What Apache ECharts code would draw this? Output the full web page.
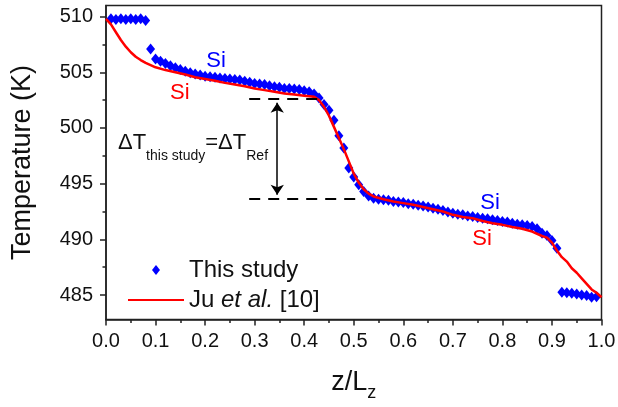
<!DOCTYPE html>
<html><head><meta charset="utf-8">
<script src="https://cdn.jsdelivr.net/npm/echarts@6/dist/echarts.min.js"></script>
<style>html,body{margin:0;padding:0;background:#fff}#c{width:618px;height:407px}</style>
</head><body><div id="c"></div>
<script>
// ---- data ----
const thisStudyZ = [0.01,0.02,0.03,0.04,0.05,0.06,0.07,0.08,0.09,0.10,
  0.11,0.12,0.13,0.14,0.15,0.16,0.17,0.18,0.19,0.20,
  0.21,0.22,0.23,0.24,0.25,0.26,0.27,0.28,0.29,0.30,
  0.31,0.32,0.33,0.34,0.35,0.36,0.37,0.38,0.39,0.40,
  0.41,0.42,0.43,0.44,0.45,0.46,0.47,0.48,0.49,0.50,
  0.51,0.52,0.53,0.54,0.55,0.56,0.57,0.58,0.59,0.60,
  0.61,0.62,0.63,0.64,0.65,0.66,0.67,0.68,0.69,0.70,
  0.71,0.72,0.73,0.74,0.75,0.76,0.77,0.78,0.79,0.80,
  0.81,0.82,0.83,0.84,0.85,0.86,0.87,0.88,0.89,0.90,
  0.91,0.92,0.93,0.94,0.95,0.96,0.97,0.98,0.99];
const thisStudyT = [509.8,509.75,509.8,509.75,509.8,509.75,509.8,509.65,507.1,506.2,
  506.0,505.8,505.6,505.4,505.25,505.1,504.95,504.85,504.75,504.65,
  504.6,504.55,504.5,504.45,504.4,504.35,504.3,504.2,504.1,504.0,
  503.95,503.9,503.8,503.7,503.65,503.55,503.55,503.5,503.45,503.35,
  503.25,503.05,502.7,502.1,501.6,500.7,499.3,498.2,496.4,495.6,
  494.9,494.3,493.9,493.7,493.6,493.55,493.5,493.4,493.35,493.3,
  493.2,493.15,493.05,493.0,492.9,492.8,492.7,492.6,492.45,492.35,
  492.25,492.2,492.1,492.05,491.95,491.9,491.85,491.75,491.7,491.6,
  491.55,491.45,491.35,491.3,491.25,491.15,490.95,490.55,490.35,489.9,
  489.2,485.25,485.2,485.15,485.1,485.0,484.95,484.8,484.85];

const juZ = [0.0,0.01,0.02,0.03,0.04,0.05,0.06,0.07,0.08,0.09,0.10,
  0.12,0.14,0.16,0.18,0.20,0.22,0.24,0.26,0.28,0.30,0.32,0.34,0.36,0.38,0.40,0.42,
  0.43,0.44,0.45,0.46,0.47,0.48,0.49,0.50,0.51,0.52,0.53,0.54,
  0.56,0.58,0.60,0.62,0.64,0.66,0.68,0.70,0.72,0.74,0.76,0.78,0.80,0.82,0.84,0.86,
  0.88,0.89,0.90,0.91,0.92,0.93,0.94,0.95,0.96,0.97,0.98,0.99,1.0];
const juT = [509.8,509.3,508.6,507.9,507.3,506.8,506.4,506.1,505.85,505.65,505.45,
  505.2,505.0,504.8,504.55,504.4,504.25,504.05,503.9,503.75,503.55,503.4,503.25,503.1,503.0,502.9,502.8,
  502.5,501.9,501.1,500.1,499.1,498.1,497.0,495.9,495.1,494.5,494.1,493.85,
  493.6,493.4,493.25,493.1,492.9,492.7,492.5,492.2,492.0,491.9,491.65,491.45,491.3,491.1,490.95,490.7,
  490.3,490.15,489.7,489.0,488.4,488.0,487.4,487.0,486.5,486.0,485.5,485.2,484.8];

const yTickValues = [485, 490, 495, 500, 505, 510];
const yMinorValues = [487.5, 492.5, 497.5, 502.5, 507.5];
const seriesNames = ['This study', 'Ju et al. [10]'];

// annotation anchors (data coordinates)
const dtTopT = 502.67, dtBottomT = 493.6;
const dashTop = [0.289, 0.43];
const dashBottom = [0.289, 0.515];
const arrowZ = 0.3456;
const siLabels = [
  {z: 0.222, t: 506.0, color: '#0000ff'},
  {z: 0.149, t: 503.15, color: '#ff0000'},
  {z: 0.775, t: 493.25, color: '#0000ff'},
  {z: 0.759, t: 490.0, color: '#ff0000'}
];
const dtLabelAnchor = {z: 0.0242, t: 498.65};

const FONT = 'Liberation Sans, Arial, sans-serif';
const AX = '#222';

const chart = echarts.init(document.getElementById('c'), null, {renderer: 'canvas'});
const option = {
  animation: false,
  backgroundColor: '#fff',
  grid: {left: 106, right: 16.5, top: 5.5, bottom: 87.5, show: true,
         borderColor: AX, borderWidth: 1.5, backgroundColor: 'transparent', outerBoundsMode: 'none'},
  legend: {
    data: [
      {name: seriesNames[0], icon: 'path://M0,0 M24,5 L28,0 L32,5 L28,10 Z M56,10'},
      {name: seriesNames[1], itemStyle: {color: 'rgba(0,0,0,0)', borderWidth: 0, opacity: 0}}
    ],
    orient: 'vertical', left: 122, top: 250,
    itemWidth: 56, itemHeight: 10, itemGap: 0, selectedMode: false,
    formatter: function (n) {
      return n === 'Ju et al. [10]' ? '{n|Ju }{i|et al.}{n| [10]}' : '{n|' + n + '}';
    },
    textStyle: {fontFamily: FONT, fontSize: 24, color: '#111', lineHeight: 30,
      rich: {n: {fontFamily: FONT, fontSize: 24, color: '#111', lineHeight: 30},
             i: {fontFamily: FONT, fontSize: 24, color: '#111', fontStyle: 'italic', lineHeight: 30}}}
  },
  xAxis: {
    type: 'value', min: 0, max: 1, interval: 0.1,
    name: '{a|z/L}{s|z}', nameLocation: 'middle', nameGap: 43,
    nameTextStyle: {fontFamily: FONT, color: '#111',
      rich: {a: {fontFamily: FONT, fontSize: 27, color: '#111', lineHeight: 40},
             s: {fontFamily: FONT, fontSize: 18, color: '#111', lineHeight: 18, verticalAlign: 'bottom'}}},
    axisLine: {show: true, onZero: false, lineStyle: {color: AX, width: 1.5}},
    axisTick: {show: true, length: 6, lineStyle: {color: AX, width: 1.5}},
    minorTick: {show: true, splitNumber: 2, length: 3.5, lineStyle: {color: AX, width: 1.5}},
    axisLabel: {fontFamily: FONT, fontSize: 20, color: '#111', margin: 12,
      formatter: function (v) { return v.toFixed(1); }},
    splitLine: {show: false}
  },
  yAxis: [{
    type: 'value', min: 482.8, max: 511,
    name: 'Temperature (K)', nameLocation: 'middle', nameGap: 70,
    nameTextStyle: {fontFamily: FONT, fontSize: 27, color: '#111'},
    axisLine: {show: true, onZero: false, lineStyle: {color: AX, width: 1.5}},
    axisTick: {show: true, length: 6, customValues: yTickValues, lineStyle: {color: AX, width: 1.5}},
    axisLabel: {fontFamily: FONT, fontSize: 20, color: '#111', margin: 13, customValues: yTickValues},
    splitLine: {show: false}
  }, {
    type: 'value', min: 482.8, max: 511, position: 'left',
    axisLine: {show: false},
    axisTick: {show: true, length: 3.5, customValues: yMinorValues, lineStyle: {color: AX, width: 1.5}},
    axisLabel: {show: false, customValues: yMinorValues},
    splitLine: {show: false}
  }],
  series: [{
    name: seriesNames[0], type: 'scatter', yAxisIndex: 0,
    data: thisStudyZ.map((z, i) => [z, thisStudyT[i]]),
    symbol: 'diamond', symbolSize: [9, 11],
    itemStyle: {color: '#0000ff', opacity: 1}, z: 2,
    markLine: {
      silent: true, symbol: 'none', label: {show: false}, animation: false,
      lineStyle: {color: '#000', width: 2, type: [11, 8]},
      data: [
        [{coord: [dashTop[0], dtTopT]}, {coord: [dashTop[1], dtTopT]}],
        [{coord: [dashBottom[0], dtBottomT]}, {coord: [dashBottom[1], dtBottomT]}]
      ]
    }
  }, {
    name: seriesNames[1], type: 'line', yAxisIndex: 0,
    data: juZ.map((z, i) => [z, juT[i]]),
    symbol: 'none', showSymbol: false, lineStyle: {color: '#ff0000', width: 2.5}, itemStyle: {color: '#ff0000'}, z: 3,
    markLine: {
      silent: true, symbol: ['arrow', 'arrow'], symbolSize: 10, label: {show: false}, animation: false,
      lineStyle: {color: '#000', width: 1.5, type: 'solid'},
      data: [[{coord: [arrowZ, dtTopT - 0.4]}, {coord: [arrowZ, dtBottomT + 0.4]}]]
    }
  }]
};
chart.setOption(option);

const toPx = (z, t) => chart.convertToPixel({xAxisIndex: 0, yAxisIndex: 0}, [z, t]);
const graphics = siLabels.map(function (s) {
  const p = toPx(s.z, s.t);
  return {type: 'text', silent: true, z: 10, style: {x: p[0], y: p[1], text: 'Si', fill: s.color,
    font: '22px ' + FONT, align: 'center', verticalAlign: 'middle'}};
});
const dp = toPx(dtLabelAnchor.z, dtLabelAnchor.t);
graphics.push({type: 'text', silent: true, z: 10, style: {
  x: dp[0], y: dp[1], text: '{b|ΔT}{s|this study}{b|=ΔT}{s|Ref}', fill: '#111',
  align: 'left', verticalAlign: 'middle',
  rich: {b: {fontFamily: FONT, fontSize: 22, fill: '#111', lineHeight: 40},
         s: {fontFamily: FONT, fontSize: 14, fill: '#111', lineHeight: 14, verticalAlign: 'bottom'}}
}});
chart.setOption({graphic: graphics});
</script></body></html>
